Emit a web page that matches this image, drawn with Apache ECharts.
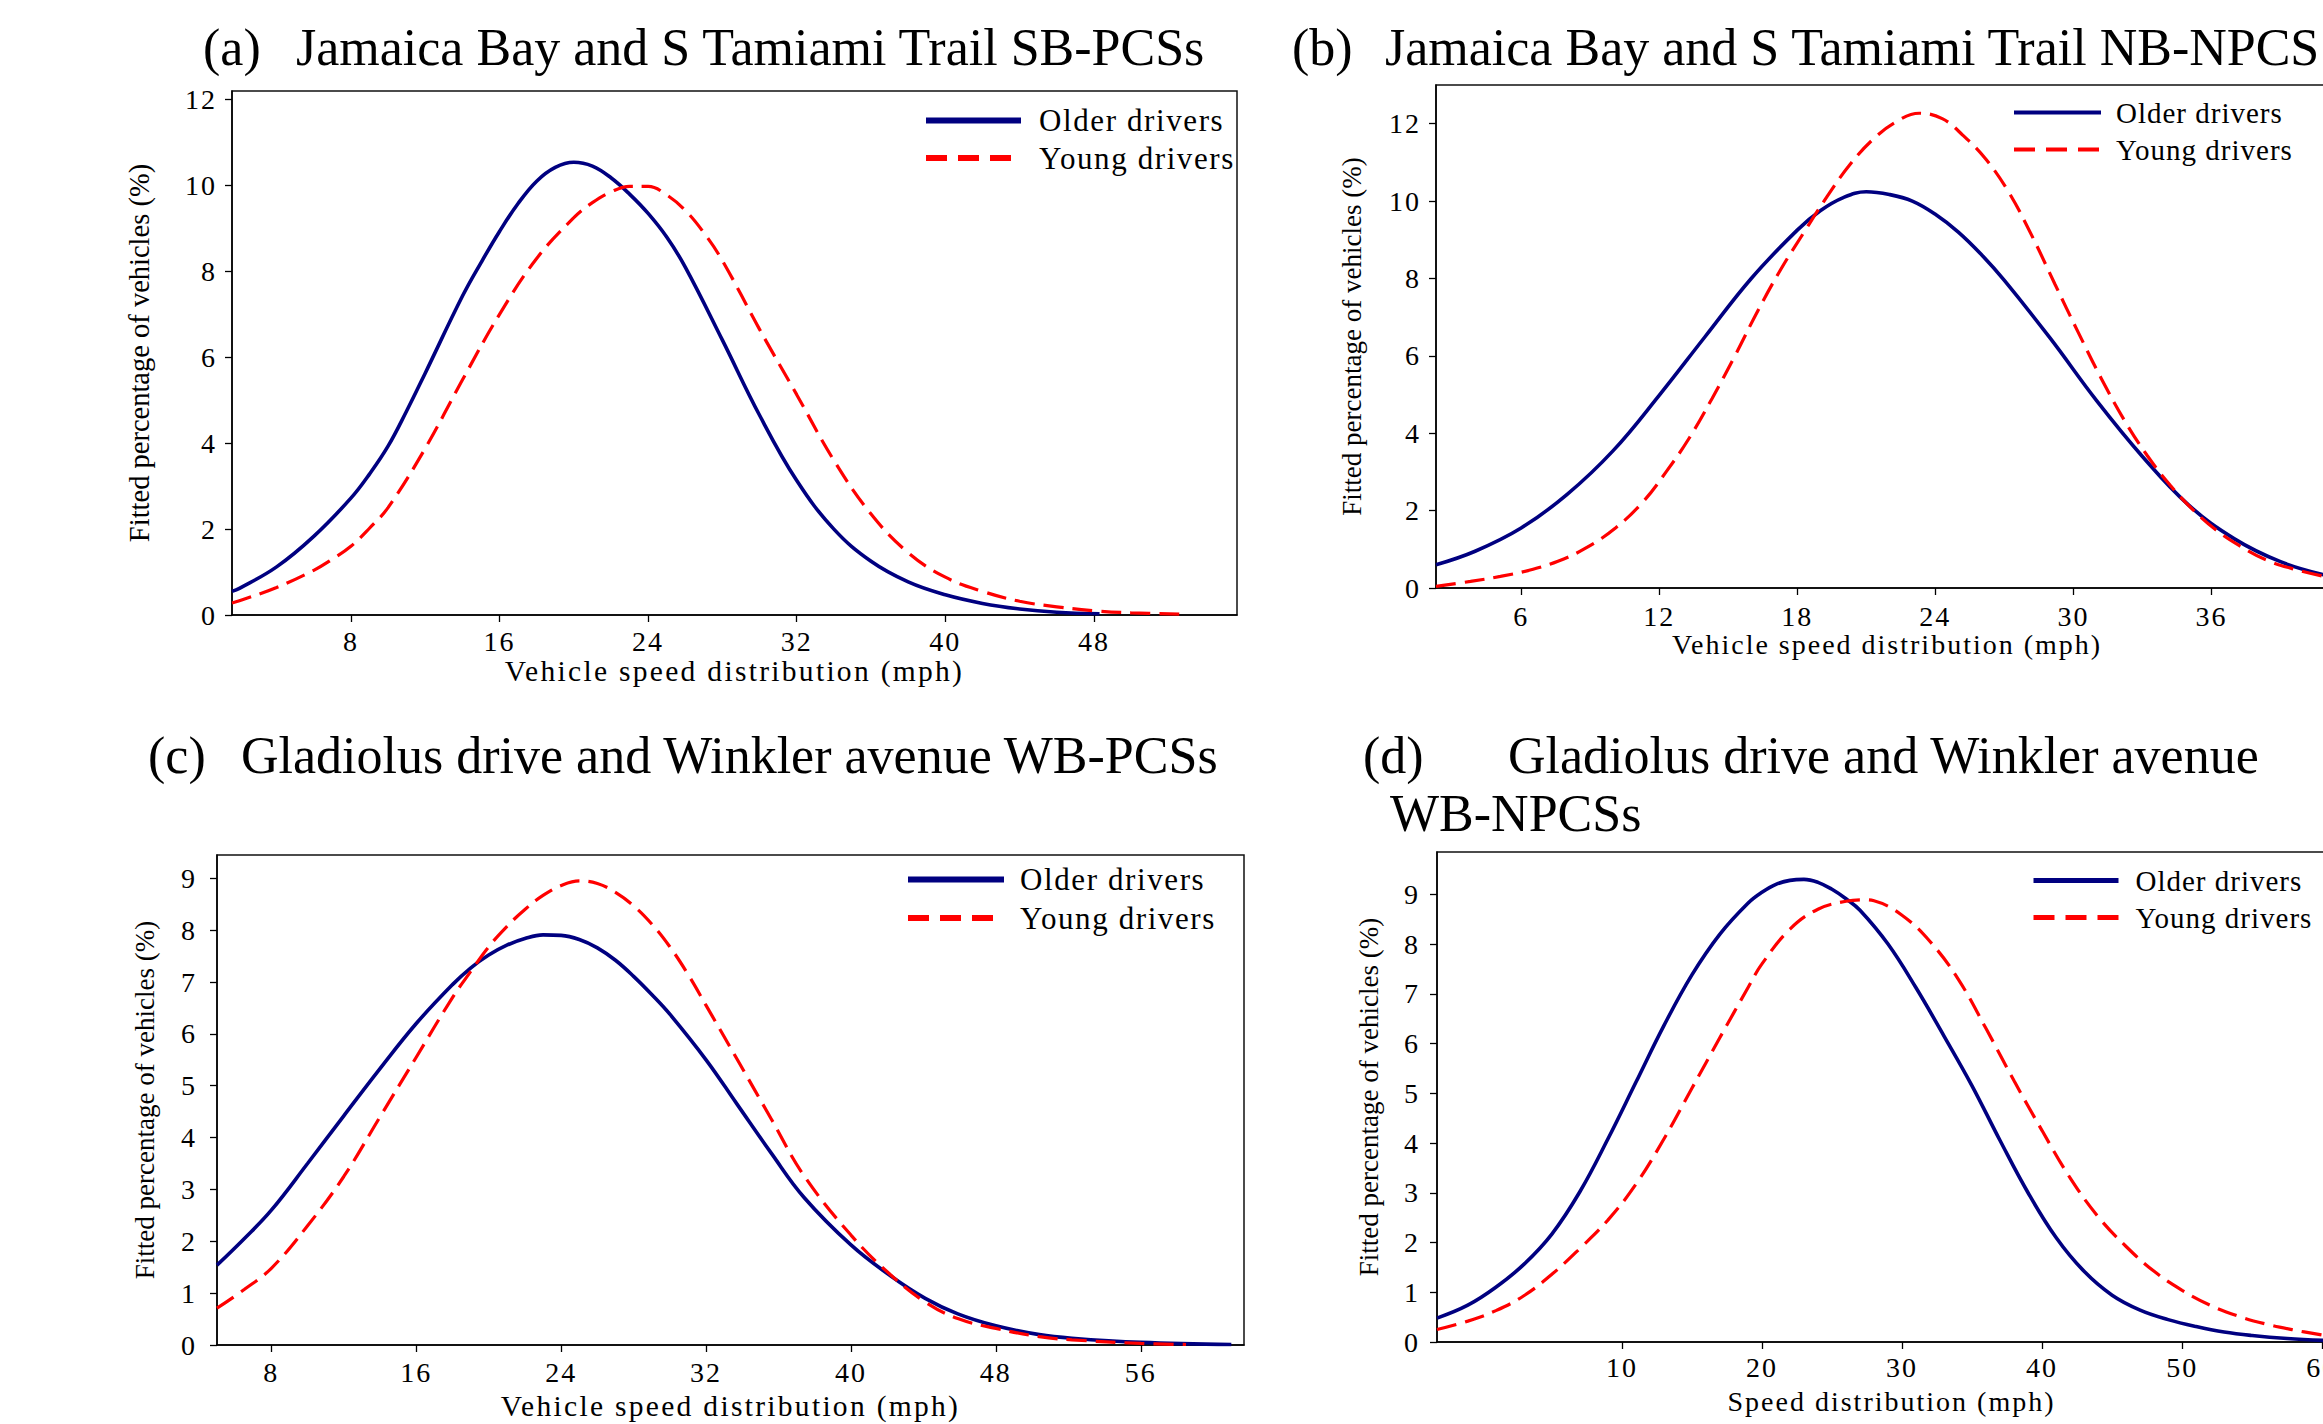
<!DOCTYPE html>
<html>
<head>
<meta charset="utf-8">
<script src="https://cdn.jsdelivr.net/npm/echarts@6/dist/echarts.min.js"></script>
<style>
html,body{margin:0;padding:0;background:#fff;}
#c{width:2323px;height:1424px;}
#c text[style*="28px"]{letter-spacing:2px;}
#c text[style*="29px"]{letter-spacing:1px;}
#c text[style*="29.5px"]{letter-spacing:2.3px;}
#c text[style*="31px"]{letter-spacing:1.6px;}
</style>
</head>
<body>
<div id="c"></div>
<script>
// ---------- text ----------
const seriesNames = ['Older drivers', 'Young drivers'];
const panelLabels = ['(a)', '(b)', '(c)', '(d)'];
const panelTitles = [
  'Jamaica Bay and S Tamiami Trail SB-PCSs',
  'Jamaica Bay and S Tamiami Trail NB-NPCS',
  'Gladiolus drive and Winkler avenue WB-PCSs',
  'Gladiolus drive and Winkler avenue'
];
const panelTitleD2 = 'WB-NPCSs';
const yAxisTitle = 'Fitted percentage of vehicles (%)';
const xAxisTitles = [
  'Vehicle speed distribution (mph)',
  'Vehicle speed distribution (mph)',
  'Vehicle speed distribution (mph)',
  'Speed distribution (mph)'
];

// ---------- tick values ----------
const xTicksA = [8, 16, 24, 32, 40, 48];
const xTicksB = [6, 12, 18, 24, 30, 36, 42];
const xTicksC = [8, 16, 24, 32, 40, 48, 56];
const xTicksD = [10, 20, 30, 40, 50, 60];
const yTicksA = [0, 2, 4, 6, 8, 10, 12];
const yTicksB = [0, 2, 4, 6, 8, 10, 12];
const yTicksC = [0, 1, 2, 3, 4, 5, 6, 7, 8, 9];
const yTicksD = [0, 1, 2, 3, 4, 5, 6, 7, 8, 9];

// ---------- data (speed mph, fitted %) ----------
// (a)
const aOlderSpeed = [1.6, 2, 4, 6, 8, 9, 10, 11, 12, 14, 15, 16, 17, 18, 19, 20, 21, 22, 23, 24, 25, 26, 28, 30, 32, 34, 36, 38, 40, 42, 44, 46, 48.3];
const aOlderPct   = [0.55, 0.62, 1.12, 1.83, 2.72, 3.28, 3.93, 4.75, 5.63, 7.42, 8.2, 8.93, 9.58, 10.1, 10.42, 10.54, 10.45, 10.18, 9.8, 9.35, 8.8, 8.1, 6.4, 4.65, 3.13, 2.0, 1.25, 0.77, 0.47, 0.27, 0.14, 0.065, 0.03];
const aYoungSpeed = [1.6, 2, 4, 6, 7, 8, 9, 10, 12, 14, 16, 18, 20, 21, 22, 23, 24, 25, 26, 27, 28, 30, 32, 34, 36, 38, 40, 42, 44, 46, 48, 50, 52.9];
const aYoungPct   = [0.28, 0.33, 0.64, 1.04, 1.3, 1.6, 2.02, 2.5, 3.88, 5.47, 7.0, 8.3, 9.25, 9.6, 9.85, 9.98, 9.98, 9.78, 9.42, 8.9, 8.25, 6.65, 5.13, 3.6, 2.35, 1.45, 0.88, 0.55, 0.32, 0.19, 0.1, 0.05, 0.02];
// (b)
const bOlderSpeed = [2.3, 4, 6, 8, 10, 12, 14, 16, 18, 19, 20, 21, 22, 23, 24, 25, 26, 27, 29, 31, 33, 35, 37, 39, 40.9];
const bOlderPct   = [0.6, 0.95, 1.55, 2.42, 3.55, 4.98, 6.5, 8.0, 9.25, 9.75, 10.09, 10.24, 10.17, 10.0, 9.66, 9.2, 8.62, 7.95, 6.45, 4.85, 3.4, 2.15, 1.27, 0.68, 0.34];
const bYoungSpeed = [2.3, 3.8, 5.1, 6.3, 7.6, 8.8, 10.1, 11.3, 12.3, 13.3, 14.3, 15.3, 16.3, 17.3, 18.3, 19.3, 20.3, 21.3, 22.3, 23.3, 24.3, 25.2, 26.2, 27.2, 28.2, 29.2, 30.2, 31.2, 32.2, 33.2, 34.2, 35.2, 36.2, 37.2, 38.4, 39.7, 40.9];
const bYoungPct   = [0.04, 0.17, 0.3, 0.45, 0.69, 1.03, 1.55, 2.23, 3.0, 3.87, 4.9, 6.01, 7.18, 8.25, 9.2, 10.12, 10.95, 11.6, 12.05, 12.27, 12.13, 11.7, 11.08, 10.22, 9.1, 7.85, 6.62, 5.43, 4.35, 3.43, 2.66, 2.02, 1.5, 1.1, 0.72, 0.47, 0.3];
// (c)
const cOlderSpeed = [5, 6.5, 8, 10, 12, 14, 16, 18, 19, 20, 21, 22, 23, 24, 25, 26, 27, 28, 29, 30, 32, 33.7, 35.6, 37.4, 40, 42.2, 44.1, 45.9, 48, 50.4, 52.2, 56, 61];
const cOlderPct   = [1.54, 2.05, 2.6, 3.5, 4.42, 5.33, 6.2, 6.95, 7.27, 7.52, 7.71, 7.84, 7.91, 7.9, 7.82, 7.66, 7.42, 7.11, 6.76, 6.38, 5.5, 4.65, 3.7, 2.85, 1.93, 1.33, 0.9, 0.6, 0.37, 0.2, 0.13, 0.05, 0.01];
const cYoungSpeed = [5, 6.5, 8, 10, 12, 14, 16, 18, 19, 20, 21, 22, 23, 24, 25, 26, 27, 28, 29, 30, 31, 32, 33.7, 35.6, 37.4, 40, 42.2, 44.1, 45.9, 48, 50.4, 52.2, 56, 58.5];
const cYoungPct   = [0.71, 1.07, 1.48, 2.3, 3.25, 4.4, 5.55, 6.7, 7.2, 7.68, 8.07, 8.4, 8.67, 8.86, 8.95, 8.9, 8.73, 8.47, 8.12, 7.68, 7.15, 6.55, 5.52, 4.36, 3.27, 2.12, 1.35, 0.83, 0.51, 0.32, 0.16, 0.1, 0.03, 0.01];
// (d)
const dOlderSpeed = [-3.2, -1, 1, 3, 5, 7, 9, 11, 13, 15, 17, 19, 20, 21, 22, 23, 24, 25, 26, 27, 29, 31, 33, 35, 37, 39, 41, 43, 45, 47, 49, 51, 53, 55, 57.5, 60.2];
const dOlderPct   = [0.48, 0.74, 1.1, 1.56, 2.17, 3.02, 4.08, 5.22, 6.36, 7.38, 8.2, 8.82, 9.04, 9.2, 9.28, 9.3, 9.24, 9.1, 8.91, 8.68, 8.0, 7.12, 6.15, 5.15, 4.05, 3.0, 2.1, 1.42, 0.94, 0.64, 0.45, 0.31, 0.2, 0.13, 0.07, 0.03];
const dYoungSpeed = [-3.2, -1, 1, 3, 5, 7, 9, 11, 13, 15, 17, 19, 20, 22, 24, 26, 27.3, 28, 30, 32, 34, 36, 38, 40, 42, 44, 46, 48, 50, 52, 54, 56, 58, 60.2];
const dYoungPct   = [0.25, 0.42, 0.63, 0.93, 1.36, 1.88, 2.45, 3.17, 4.08, 5.1, 6.12, 7.12, 7.6, 8.3, 8.7, 8.86, 8.89, 8.87, 8.58, 8.05, 7.3, 6.3, 5.25, 4.25, 3.3, 2.52, 1.92, 1.42, 1.04, 0.74, 0.52, 0.36, 0.24, 0.13];

// ---------- styling ----------
const FONT = 'Liberation Serif';
const BLUE = '#000080';
const RED = '#ff0000';
const pair = (xs, ys) => xs.map((x, i) => [x, ys[i]]);

const grids = [
  {left: 232, top: 91, width: 1005, height: 524},
  {left: 1436, top: 85, width: 902, height: 503},
  {left: 217, top: 855, width: 1027, height: 490},
  {left: 1437, top: 852, width: 909, height: 490}
];
const xRanges = [[1.6, 55.7], [2.3, 41.5], [5, 61.7], [-3.2, 61.7]];
const yRanges = [[0, 12.2], [0, 13], [0, 9.45], [0, 9.85]];
const xTicks = [xTicksA, xTicksB, xTicksC, xTicksD];
const yTicks = [yTicksA, yTicksB, yTicksC, yTicksD];
const xLabelMargin = [12, 14, 13, 11];
const yLabelMargin = [15, 15, 20, 17];
const xNameGap = [38, 42, 46, 45];
const xNameSize = [29.5, 28, 29.5, 28];
const yNameGap = [78, 71, 59, 55];
const yNameSize = [28.5, 27, 27, 27];

const xAxes = grids.map((g, i) => ({
  type: 'value', gridIndex: i, min: xRanges[i][0], max: xRanges[i][1],
  name: xAxisTitles[i], nameLocation: 'middle', nameGap: xNameGap[i],
  nameTextStyle: {fontFamily: FONT, fontSize: xNameSize[i], color: '#000'},
  axisLine: {show: true, onZero: false, lineStyle: {color: '#000', width: 1.5}},
  axisTick: {show: true, inside: false, length: 7, customValues: xTicks[i], lineStyle: {color: '#000', width: 1.3}},
  axisLabel: {show: true, customValues: xTicks[i], margin: xLabelMargin[i], fontFamily: FONT, fontSize: 28, color: '#000', hideOverlap: false},
  splitLine: {show: false}
}));
const yAxes = grids.map((g, i) => ({
  type: 'value', gridIndex: i, min: yRanges[i][0], max: yRanges[i][1],
  name: yAxisTitle, nameLocation: 'middle', nameGap: yNameGap[i], nameRotate: 90,
  nameTextStyle: {fontFamily: FONT, fontSize: yNameSize[i], color: '#000'},
  axisLine: {show: true, onZero: false, lineStyle: {color: '#000', width: 1.5}},
  axisTick: {show: true, inside: false, length: 7, customValues: yTicks[i], lineStyle: {color: '#000', width: 1.3}},
  axisLabel: {show: true, customValues: yTicks[i], margin: yLabelMargin[i], fontFamily: FONT, fontSize: 28, color: '#000'},
  splitLine: {show: false}
}));

const olderData = [pair(aOlderSpeed, aOlderPct), pair(bOlderSpeed, bOlderPct), pair(cOlderSpeed, cOlderPct), pair(dOlderSpeed, dOlderPct)];
const youngData = [pair(aYoungSpeed, aYoungPct), pair(bYoungSpeed, bYoungPct), pair(cYoungSpeed, cYoungPct), pair(dYoungSpeed, dYoungPct)];

const series = [];
for (let i = 0; i < 4; i++) {
  series.push({
    name: seriesNames[0], type: 'line', xAxisIndex: i, yAxisIndex: i,
    data: olderData[i], symbol: 'none', smooth: 0.4, z: 3,
    lineStyle: {color: BLUE, width: 3.6}, itemStyle: {color: BLUE}
  });
  series.push({
    name: seriesNames[1], type: 'line', xAxisIndex: i, yAxisIndex: i,
    data: youngData[i], symbol: 'none', smooth: 0.4, z: 4,
    lineStyle: {color: RED, width: 3.2, type: [20, 9]}, itemStyle: {color: RED}
  });
}

const legendPos = [
  {left: 923, top: 105, w: 95, size: 31, gap: 6.5, pad: 13, lw: 6},
  {left: 2012, top: 98, w: 87, size: 29, gap: 8, pad: 10, lw: 4},
  {left: 905, top: 864, w: 96, size: 31, gap: 7.5, pad: 11, lw: 6},
  {left: 2031, top: 866, w: 85, size: 29, gap: 8, pad: 12, lw: 5}
];
const hiddenSymbol = {color: 'transparent', borderColor: 'transparent', borderWidth: 0, opacity: 0};
const legends = legendPos.map(p => ({
  orient: 'vertical', left: p.left, top: p.top, padding: 0,
  itemWidth: p.w, itemHeight: 20, itemGap: p.gap, selectedMode: false,
  textStyle: {fontFamily: FONT, fontSize: p.size, color: '#000', padding: [0, 0, 0, p.pad]},
  data: [
    {name: seriesNames[0], itemStyle: hiddenSymbol, lineStyle: {color: BLUE, width: p.lw, type: 'solid', opacity: 1}},
    {name: seriesNames[1], itemStyle: hiddenSymbol, lineStyle: {color: RED, width: p.lw, type: [21, 11], opacity: 1}}
  ]
}));

const tStyle = {fontFamily: FONT, fontSize: 52, fontWeight: 'normal', color: '#000'};
const titles = [
  {text: panelLabels[0], left: 203, top: 21},
  {text: panelTitles[0], left: 296, top: 21},
  {text: panelLabels[1], left: 1292, top: 21},
  {text: panelTitles[1], left: 1385, top: 21},
  {text: panelLabels[2], left: 148, top: 729},
  {text: panelTitles[2], left: 241, top: 729},
  {text: panelLabels[3], left: 1363, top: 729},
  {text: panelTitles[3], left: 1508, top: 729},
  {text: panelTitleD2, left: 1390, top: 787}
].map(t => Object.assign({padding: 0, textStyle: tStyle}, t));

const chart = echarts.init(document.getElementById('c'), null, {renderer: 'svg'});
chart.setOption({
  backgroundColor: '#fff',
  animation: false,
  title: titles,
  legend: legends,
  grid: grids.map(g => Object.assign({show: true, borderColor: '#111', borderWidth: 1.5, backgroundColor: 'transparent', containLabel: false, outerBoundsMode: 'none'}, g)),
  xAxis: xAxes,
  yAxis: yAxes,
  series: series
});
</script>
</body>
</html>
